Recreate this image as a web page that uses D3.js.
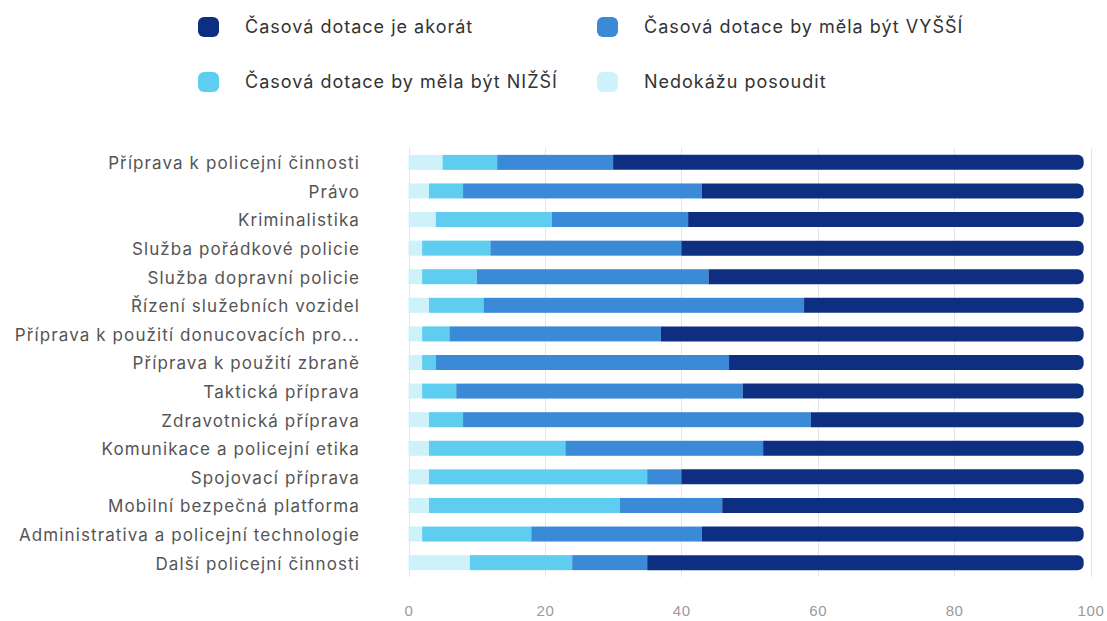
<!DOCTYPE html>
<html>
  <head>
    <meta charset="utf-8">
    <title>Časová dotace</title>
    <script src="https://d3js.org/d3.v7.min.js"></script>
    <style>
      body { margin: 0; background: #ffffff; }
      svg { font-family: Inter, "Noto Sans", sans-serif; }
      .cat text { fill: #555555; font-size: 17px; letter-spacing: 1.1px; }
      .xaxis text { fill: #9a9a9a; font-size: 15px; letter-spacing: 0.6px; }
      .legend text { fill: #333333; font-size: 18px; letter-spacing: 1px; }
    </style>
  </head>
  <body>
    <script>
      // categories, top to bottom
      var categories = [
        "Příprava k policejní činnosti",
        "Právo",
        "Kriminalistika",
        "Služba pořádkové policie",
        "Služba dopravní policie",
        "Řízení služebních vozidel",
        "Příprava k použití donucovacích pro...",
        "Příprava k použití zbraně",
        "Taktická příprava",
        "Zdravotnická příprava",
        "Komunikace a policejní etika",
        "Spojovací příprava",
        "Mobilní bezpečná platforma",
        "Administrativa a policejní technologie",
        "Další policejní činnosti"
      ];

      // series, stacked left to right (percent)
      var nedokazu = [5, 3, 4, 2, 2, 3, 2, 2, 2, 3, 3, 3, 3, 2, 9];
      var nizsi    = [8, 5, 17, 10, 8, 8, 4, 2, 5, 5, 20, 32, 28, 16, 15];
      var vyssi    = [17, 35, 20, 28, 34, 47, 31, 43, 42, 51, 29, 5, 15, 25, 11];
      var akorat   = [69, 56, 58, 59, 55, 41, 62, 52, 50, 40, 47, 59, 53, 56, 64];

      var xTicks = [0, 20, 40, 60, 80, 100];

      var seriesNames = ["Nedokážu posoudit", "Časová dotace by měla být NIŽŠÍ",
                         "Časová dotace by měla být VYŠŠÍ", "Časová dotace je akorát"];
      var colors = ["#cff1fa", "#5fcdef", "#3a8ad7", "#0e2f81"];

      var width = 1107, height = 621;
      var svg = d3.select("body").append("svg")
        .attr("width", width)
        .attr("height", height);

      var rows = categories.map(function(c, i) {
        return { cat: c, nedokazu: nedokazu[i], nizsi: nizsi[i], vyssi: vyssi[i], akorat: akorat[i] };
      });
      var keys = ["nedokazu", "nizsi", "vyssi", "akorat"];
      var stacked = d3.stack().keys(keys)(rows);

      var x = d3.scaleLinear().domain([0, 100]).range([408.5, 1090.5]);
      var y = d3.scaleBand().domain(categories).range([148, 577]).paddingInner(0.475).paddingOuter(0.24);

      // grid lines
      svg.append("g")
        .selectAll("line")
        .data(xTicks)
        .enter().append("line")
        .attr("x1", function(d) { return Math.round(x(d)) + 0.5; })
        .attr("x2", function(d) { return Math.round(x(d)) + 0.5; })
        .attr("y1", 148)
        .attr("y2", 577)
        .attr("stroke", "#e6e6e6")
        .attr("stroke-width", 1);

      // right end rounded
      function roundRight(x0, x1, y0, h, r) {
        var w = x1 - x0;
        r = Math.min(r, w, h / 2);
        return "M" + x0 + "," + y0 +
          "H" + (x1 - r) +
          "A" + r + "," + r + " 0 0 1 " + x1 + "," + (y0 + r) +
          "V" + (y0 + h - r) +
          "A" + r + "," + r + " 0 0 1 " + (x1 - r) + "," + (y0 + h) +
          "H" + x0 + "Z";
      }

      var groups = svg.append("g").selectAll("g")
        .data(stacked)
        .enter().append("g")
        .attr("fill", function(d, i) { return colors[i]; });

      groups.each(function(s, si) {
        var g = d3.select(this);
        if (si < keys.length - 1) {
          g.selectAll("rect")
            .data(s)
            .enter().append("rect")
            .attr("x", function(d) { return x(d[0]); })
            .attr("width", function(d) { return x(d[1]) - x(d[0]); })
            .attr("y", function(d) { return y(d.data.cat); })
            .attr("height", y.bandwidth());
        } else {
          g.selectAll("path")
            .data(s)
            .enter().append("path")
            .attr("d", function(d) {
              return roundRight(x(d[0]), x(d[1]), y(d.data.cat), y.bandwidth(), 6);
            });
        }
      });

      // category labels
      svg.append("g")
        .attr("class", "cat")
        .selectAll("text")
        .data(categories)
        .enter().append("text")
        .attr("x", 360)
        .attr("y", function(d) { return y(d) + y.bandwidth() / 2 + 1; })
        .attr("dy", "0.35em")
        .attr("text-anchor", "end")
        .text(function(d) { return d; });

      // x axis labels
      var xAxis = d3.axisBottom(x).tickValues(xTicks).tickSize(0).tickPadding(0);
      svg.append("g")
        .attr("class", "xaxis")
        .attr("transform", "translate(0,605)")
        .call(xAxis)
        .call(function(g) { g.select(".domain").remove(); })
        .selectAll("text")
        .attr("font-family", null)
        .attr("font-size", null);

      // legend
      var legendItems = [
        { name: seriesNames[3], color: colors[3], x: 198, y: 27 },
        { name: seriesNames[2], color: colors[2], x: 597, y: 27 },
        { name: seriesNames[1], color: colors[1], x: 198, y: 82 },
        { name: seriesNames[0], color: colors[0], x: 597, y: 82 }
      ];
      var legend = svg.append("g").attr("class", "legend");
      var li = legend.selectAll("g")
        .data(legendItems)
        .enter().append("g")
        .attr("transform", function(d) { return "translate(" + d.x + "," + d.y + ")"; });
      li.append("rect")
        .attr("x", 0).attr("y", -10)
        .attr("width", 21).attr("height", 20)
        .attr("rx", 6)
        .attr("fill", function(d) { return d.color; });
      li.append("text")
        .attr("x", 47)
        .attr("dy", "0.35em")
        .text(function(d) { return d.name; });
    </script>
  </body>
</html>
